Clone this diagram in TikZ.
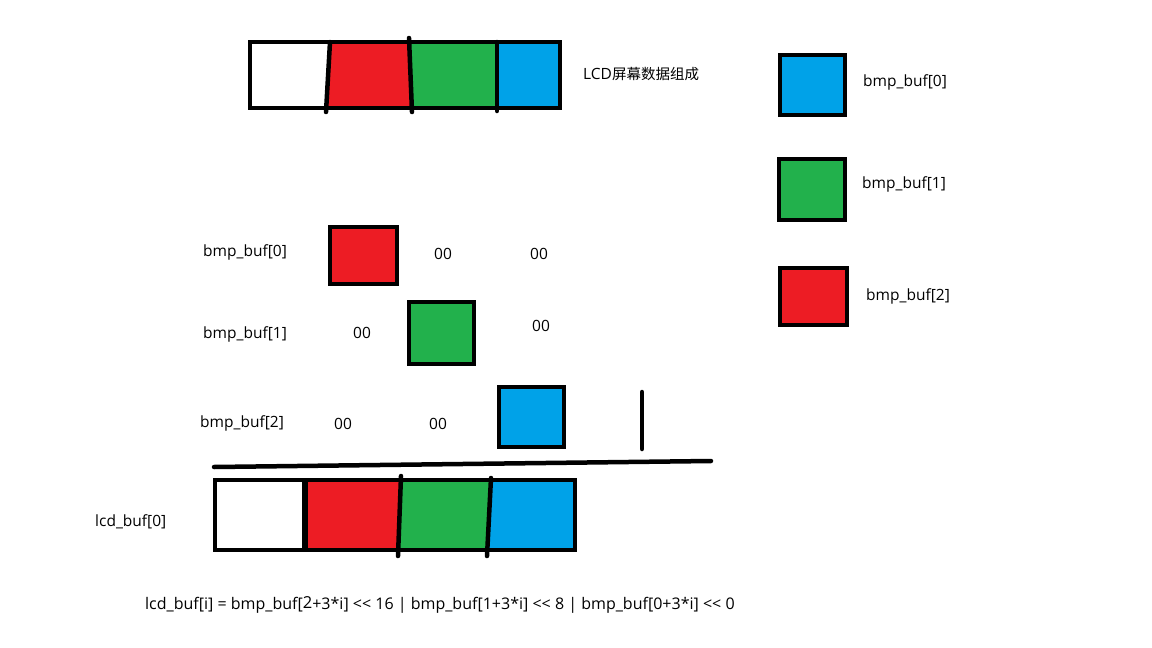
\documentclass[tikz,border=0pt]{standalone}
\usepackage{fontspec}
\setmainfont{Open Sans}[Ligatures=TeXOff]
\newfontfamily\cjk{Noto Sans CJK SC}
\usepackage{tikz}

\definecolor{pred}{HTML}{ED1C24}
\definecolor{pgreen}{HTML}{22B14C}
\definecolor{pblue}{HTML}{00A2E8}

\tikzset{
	pen/.style={line width=4.5pt, line cap=round, line join=miter},
	cell/.style={pen, draw=black},
	lbl/.style={font=\fontsize{15.5}{17}\selectfont, inner sep=0pt}
}

\begin{document}
\begin{tikzpicture}[x=1pt, y=-1pt]
		\useasboundingbox[fill=white] (0,0) rectangle (1152,648);

		% LCD pixel bar at the top
		\fill[pred] (330,42) -- (410,42) -- (412,108) -- (326,108) -- cycle;
		\fill[pgreen] (410,42) -- (497,42) -- (497,108) -- (412,108) -- cycle;
		\fill[pblue] (497,42) -- (560,42) -- (560,108) -- (497,108) -- cycle;
		\draw[pen] (250,42) rectangle (560,108);
		\draw[pen] (330,42) -- (326,112);
		\draw[pen] (409,38) -- (412,112);
		\draw[pen] (497,42) -- (497,111);
		\node[lbl, anchor=west] (lcdtitle) at (583,74) {LCD{\cjk\fontsize{14.5}{16}\selectfont 屏幕数据组成}};

		% Colour key on the right
		\draw[cell, fill=pblue] (780,55) rectangle (845,115);
		\draw[cell, fill=pgreen] (779,159) rectangle (845,220);
		\draw[cell, fill=pred] (780,268) rectangle (847,325);
		\node[lbl, anchor=west] (key0) at (863,82) {bmp\_buf[0]};
		\node[lbl, anchor=west] (key1) at (862,184) {bmp\_buf[1]};
		\node[lbl, anchor=west] (key2) at (866,296) {bmp\_buf[2]};

		% The three bytes shifted into place
		\node[lbl, anchor=west] (row0) at (203,252) {bmp\_buf[0]};
		\draw[cell, fill=pred] (330,227) rectangle (397,284);
		\node[lbl] (z01) at (443,254) {00};
		\node[lbl] (z02) at (539,254) {00};

		\node[lbl, anchor=west] (row1) at (203,334) {bmp\_buf[1]};
		\node[lbl] (z11) at (362,333) {00};
		\draw[cell, fill=pgreen] (409,302) rectangle (474,364);
		\node[lbl] (z12) at (541,326) {00};

		\node[lbl, anchor=west] (row2) at (200,423) {bmp\_buf[2]};
		\node[lbl] (z21) at (343,424) {00};
		\node[lbl] (z22) at (438,424) {00};
		\draw[cell, fill=pblue] (499,387) rectangle (564,447);

		% OR line
		\draw[pen] (642,392) -- (642,449);
		\draw[pen] (214,467) -- (711,461);

		% Result word
		\node[lbl, anchor=west] (lcd0) at (95,522) {lcd\_buf[0]};
		\fill[pred] (305,480) -- (401,480) -- (399,550) -- (305,550) -- cycle;
		\fill[pgreen] (401,480) -- (491,480) -- (488,550) -- (399,550) -- cycle;
		\fill[pblue] (491,480) -- (575,480) -- (575,550) -- (488,550) -- cycle;
		\draw[pen] (215,480) rectangle (575,550);
		\draw[line width=6pt] (305,478) -- (305,552);
		\draw[pen] (401,476) -- (398,556);
		\draw[pen] (491,478) -- (487,556);

		% Formula
		\node[lbl, anchor=west, font=\fontsize{16}{17}\selectfont] (formula) at (145,605)
			{lcd\_buf[i] = bmp\_buf[{\fontsize{16.5}{17}\selectfont\raisebox{1pt}{2}}+3*i] << 16 | bmp\_buf[1+3*i] << 8 | bmp\_buf[0+3*i] << 0};
	\end{tikzpicture}
\end{document}
